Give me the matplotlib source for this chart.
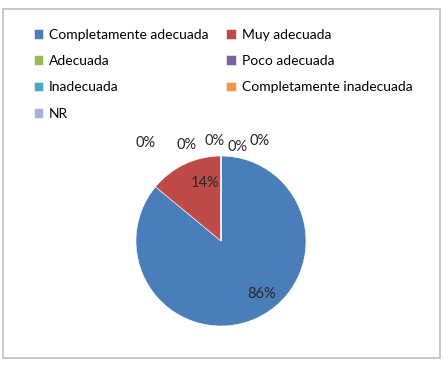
import matplotlib.pyplot as plt
from matplotlib.patches import Rectangle

categories = ['Completamente adecuada', 'Muy adecuada', 'Adecuada', 'Poco adecuada',
              'Inadecuada', 'Completamente inadecuada', 'NR']
values = [86, 14, 0, 0, 0, 0, 0]
colors = ['#4A7EBB', '#BE4B48', '#98B954', '#7D60A0', '#46AAC5', '#F79646', '#A2B4DB']
# label spots (in pie radius units), Excel spreads the 0% labels over the top
label_pos = [(0.48, -0.62), (-0.19, 0.68), (-0.89, 1.15), (-0.41, 1.13),
             (-0.08, 1.18), (0.19, 1.11), (0.45, 1.18)]

plt.rcParams['font.family'] = ['Lato', 'DejaVu Sans']

fig = plt.figure(figsize=(4.43, 3.66), dpi=100)
# light grey frame round the chart
fig.patches.append(Rectangle((3 / 443, 1 - 358 / 366), 437 / 443, 349 / 366,
                             transform=fig.transFigure, fill=False,
                             edgecolor='#BFBFBF', linewidth=1.2))

ax = fig.add_axes([136 / 443, 40 / 366, 170 / 443, 170 / 366])
wedges, _ = ax.pie(values, colors=colors, startangle=90, counterclock=False,
                   radius=1, wedgeprops={'linewidth': 0.4, 'edgecolor': 'white'})
ax.set_xlim(-1, 1)
ax.set_ylim(-1, 1)
ax.set_aspect('equal')
ax.axis('off')

total = sum(values)
for v, (x, y) in zip(values, label_pos):
    ax.text(x, y, f'{round(100 * v / total)}%', ha='center', va='center',
            fontsize=10.5, color='#262626')

# Excel fills the legend row by row, matplotlib column by column
order = [0, 2, 4, 6, 1, 3, 5]
fig.legend([wedges[i] for i in order], [categories[i] for i in order],
           ncol=2, loc='upper left', bbox_to_anchor=(28 / 443, 1 - 23 / 366),
           frameon=False, fontsize=10, handlelength=0.7, handleheight=0.7,
           handletextpad=0.4, columnspacing=1.3, labelspacing=1.04,
           borderaxespad=0)

fig.savefig('out.png', dpi=100)
